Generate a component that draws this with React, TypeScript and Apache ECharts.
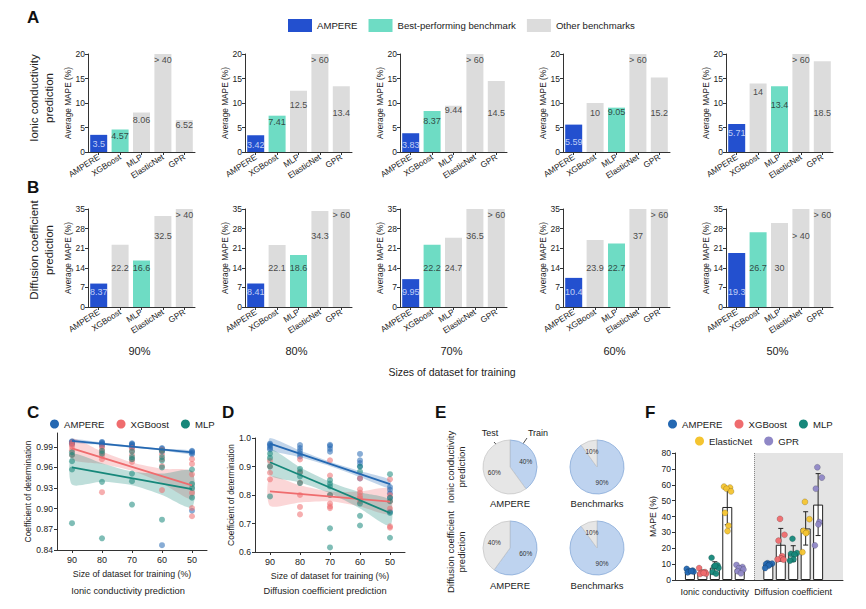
import React, { useEffect, useRef } from "react";
import * as echarts from "echarts";

// ---------------- DATA ----------------
const models = ["AMPERE", "XGBoost", "MLP", "ElasticNet", "GPR"];
const trainSizes = ["90%", "80%", "70%", "60%", "50%"];
const sizesNum = [90, 80, 70, 60, 50];

// Panel A: average MAPE (%) for ionic conductivity (strings = off-scale values)
const ionic90 = [3.5, 4.57, 8.06, "> 40", 6.52];
const ionic80 = [3.42, 7.41, 12.5, "> 60", 13.4];
const ionic70 = [3.83, 8.37, 9.44, "> 60", 14.5];
const ionic60 = [5.59, 10, 9.05, "> 60", 15.2];
const ionic50 = [5.71, 14, 13.4, "> 60", 18.5];
const ionicBest = [1, 1, 1, 2, 2];

// Panel B: average MAPE (%) for diffusion coefficient
const diff90 = [8.37, 22.2, 16.6, 32.5, "> 40"];
const diff80 = [8.41, 22.1, 18.6, 34.3, "> 60"];
const diff70 = [9.95, 22.2, 24.7, 36.5, "> 60"];
const diff60 = [10.4, 23.9, 22.7, 37, "> 60"];
const diff50 = [19.3, 26.7, 30, "> 40", "> 60"];
const diffBest = [2, 2, 1, 2, 1];

// Panel C: coefficient of determination, ionic conductivity (rows: 90,80,70,60,50)
const ionicR2Ampere = [
  [0.998, 0.997, 0.996, 0.995, 0.994],
  [0.997, 0.996, 0.995, 0.993, 0.991],
  [0.995, 0.994, 0.993, 0.991, 0.989],
  [0.988, 0.987, 0.985, 0.983, 0.847],
  [0.984, 0.983, 0.981, 0.979, 0.897],
];
const ionicR2Xgb = [
  [0.996, 0.993, 0.99, 0.985, 0.978],
  [0.99, 0.986, 0.982, 0.977, 0.972, 0.924],
  [0.988, 0.984, 0.978, 0.972, 0.968],
  [0.985, 0.979, 0.972, 0.962, 0.927],
  [0.972, 0.965, 0.95, 0.923, 0.901, 0.889],
];
const ionicR2Mlp = [
  [0.982, 0.978, 0.969, 0.957, 0.879],
  [0.984, 0.98, 0.939, 0.857],
  [0.983, 0.975, 0.972, 0.951, 0.94, 0.906],
  [0.984, 0.975, 0.97, 0.96, 0.884],
  [0.957, 0.936, 0.916, 0.93],
];
const ionicFitAmpere = [0.9987, 0.9818];
const ionicFitXgb = [0.9876, 0.934];
const ionicFitMlp = [0.96, 0.9285];
const ionicBandAmpereHi = [1.0012, 0.9962, 0.9915, 0.9875, 0.9845];
const ionicBandAmpereLo = [0.9962, 0.9928, 0.9885, 0.9845, 0.979];
const ionicBandXgbHi = [1.002, 0.983, 0.967, 0.958, 0.954];
const ionicBandXgbLo = [0.972, 0.965, 0.955, 0.937, 0.914];
const ionicBandMlpHi = [0.979, 0.966, 0.954, 0.951, 0.955];
const ionicBandMlpLo = [0.935, 0.939, 0.934, 0.92, 0.902];

// Panel D: coefficient of determination, diffusion coefficient
const diffR2Ampere = [
  [0.98, 0.977, 0.972, 0.965, 0.96],
  [0.975, 0.965, 0.955, 0.945, 0.935],
  [0.976, 0.972, 0.962, 0.952],
  [0.944, 0.922, 0.912, 0.9, 0.858],
  [0.828, 0.818, 0.806, 0.79, 0.741],
];
const diffR2Xgb = [
  [0.92, 0.9, 0.878, 0.855],
  [0.925, 0.88, 0.843, 0.8, 0.758, 0.732],
  [0.922, 0.868, 0.8, 0.77, 0.76, 0.754],
  [0.858, 0.82, 0.808, 0.796, 0.788, 0.778],
  [0.855, 0.8, 0.778, 0.752, 0.69, 0.685],
];
const diffR2Mlp = [
  [0.945, 0.93, 0.9, 0.795],
  [0.892, 0.88, 0.865, 0.842],
  [0.852, 0.84, 0.83, 0.8, 0.683, 0.616],
  [0.9, 0.882, 0.77, 0.727, 0.693],
  [0.873, 0.79, 0.778, 0.737, 0.65],
];
const diffFitAmpere = [0.98, 0.838];
const diffFitXgb = [0.813, 0.777];
const diffFitMlp = [0.915, 0.737];
const diffBandAmpereHi = [1.0, 0.956, 0.917, 0.884, 0.853];
const diffBandAmpereLo = [0.96, 0.933, 0.901, 0.863, 0.823];
const diffBandXgbHi = [0.864, 0.834, 0.812, 0.812, 0.822];
const diffBandXgbLo = [0.762, 0.774, 0.778, 0.76, 0.733];
const diffBandMlpHi = [0.96, 0.897, 0.846, 0.81, 0.782];
const diffBandMlpLo = [0.87, 0.844, 0.806, 0.753, 0.692];

// Panel E: train / test split (%)
const splitAmpereIonic = [40, 60];
const splitBenchIonic = [90, 10];
const splitAmpereDiff = [60, 40];
const splitBenchDiff = [90, 10];

// Panel F: MAPE (%) per run
const fIonic = [
  [7, 6, 5.5, 5.2, 4.8, 5.6],
  [7.5, 5, 4.6, 4, 3.8, 4.4],
  [14, 9.2, 8.5, 7.6, 5, 4, 9],
  [58.8, 58.2, 57.5, 55.8, 42.3, 34.2, 30.8],
  [9.5, 8.2, 7.5, 6.6, 5.5, 4.2],
];
const fDiff = [
  [10.6, 10.3, 10, 9.7, 9, 7.5],
  [38.5, 28.5, 24.8, 15, 13.6, 13, 12.8],
  [26, 17, 16.5, 16, 13, 12.2],
  [49.2, 38.3, 31, 30, 29.5, 17.5],
  [71, 64.5, 57.5, 36.5, 35, 21.8],
];
const fIonicMean = [5.5, 4.9, 7.8, 46, 7.0];
const fIonicSd = [1.0, 1.3, 3.7, 11.2, 1.9];
const fDiffMean = [9.9, 22.2, 16.6, 32.5, 47.5];
const fDiffSd = [1.2, 10.3, 5.0, 10.5, 19.5];
const fGroups = ["Ionic conductivity", "Diffusion coefficient"];

// ---------------- LAYOUT / STYLE ----------------
const FONT = '"Liberation Sans", Arial, sans-serif';
const INK = "#222";
const AXIS = "#333";
const BLUE = "#2350cf";
const TEAL = "#6edcc4";
const GREY = "#dcdcdc";
const C_AMP = "#2468b2";
const C_XGB = "#ef6c6e";
const C_MLP = "#16877a";
const C_EN = "#f4c430";
const C_GPR = "#8f87c6";
const PIE_BLUE = "#bed3ef";
const PIE_GREY = "#e6e6e6";

const panelLefts = [88, 245, 400, 563, 726];
const PANEL_W = 107;
const ionicLabelAt = [
  [1.7, 3.2, 6.6, 18.8, 5.5],
  [1.5, 6.2, 9.6, 18.8, 7.9],
  [1.5, 6.4, 8.6, 18.8, 7.9],
  [2.1, 8.0, 8.1, 18.8, 7.9],
  [3.8, 12.3, 9.5, 18.8, 7.9],
];
const diffLabelAt = [5.4, 13.8, 13.8, 25.2, 33];
const fIonicX = [1.2, 2.2, 3.2, 4.2, 5.2];
const fDiffX = [7.5, 8.5, 9.5, 10.5, 11.5];
const fGroupX = [3.2, 9.5];
const fSplit = 6.35;
const fMaxX = 13.5;
const jitter = [-0.26, 0.22, -0.06, 0.3, -0.18, 0.1, 0.02];

function buildOption() {
  const grids: any[] = [];
  const xAxes: any[] = [];
  const yAxes: any[] = [];
  const series: any[] = [];
  const graphic: any[] = [];

  const lineAx = { show: true, lineStyle: { color: AXIS, width: 1 } };
  const tickAx = { show: true, length: 3, lineStyle: { color: AXIS, width: 1 } };

  function text(t: string, x: number, y: number, size: number, opts: any = {}) {
    graphic.push({
      type: "text",
      x,
      y,
      rotation: opts.rotation || 0,
      silent: true,
      style: {
        text: t,
        fontSize: size,
        fontFamily: FONT,
        fontWeight: opts.weight || "normal",
        fill: opts.fill || INK,
        align: opts.align || "center",
        verticalAlign: opts.valign || "middle",
        lineHeight: opts.lineHeight || size * 1.2,
      },
    });
  }

  function addBarPanel(row: any[], best: number, labelAt: number[], top: number, left: number, max: number, interval: number) {
    const idx = grids.length;
    grids.push({ left, top, width: PANEL_W, height: 98, outerBoundsMode: "none" });
    xAxes.push({
      type: "category",
      gridIndex: idx,
      data: models,
      axisLine: lineAx,
      axisTick: { ...tickAx, alignWithLabel: true },
      axisLabel: { rotate: 33, interval: 0, fontSize: 8.3, color: INK, margin: 4, fontFamily: FONT },
    });
    yAxes.push({
      type: "value",
      gridIndex: idx,
      min: 0,
      max,
      interval,
      name: "Average MAPE (%)",
      nameLocation: "middle",
      nameGap: 14,
      nameTextStyle: { fontSize: 8.3, color: INK, fontFamily: FONT },
      axisLine: lineAx,
      axisTick: tickAx,
      axisLabel: { fontSize: 8.5, color: INK, margin: 3, fontFamily: FONT },
      splitLine: { show: false },
    });
    series.push({
      type: "bar",
      xAxisIndex: idx,
      yAxisIndex: idx,
      barWidth: 17,
      silent: true,
      data: row.map((v, i) => ({
        value: typeof v === "number" ? Math.min(v, max) : max,
        itemStyle: { color: i === 0 ? BLUE : i === best ? TEAL : GREY },
      })),
    });
    series.push({
      type: "scatter",
      xAxisIndex: idx,
      yAxisIndex: idx,
      symbolSize: 1,
      itemStyle: { color: "transparent" },
      silent: true,
      z: 5,
      data: row.map((v, i) => ({
        value: [i, labelAt[i]],
        label: { color: i === 0 ? "#e8eeff" : INK },
      })),
      label: {
        show: true,
        position: "inside",
        fontSize: 9,
        fontFamily: FONT,
        formatter: (p: any) => String(row[p.dataIndex]),
      },
    });
  }

  const ionicRows = [ionic90, ionic80, ionic70, ionic60, ionic50];
  const diffRows = [diff90, diff80, diff70, diff60, diff50];
  ionicRows.forEach((row, i) => addBarPanel(row, ionicBest[i], ionicLabelAt[i], 54, panelLefts[i], 20, 5));
  diffRows.forEach((row, i) => addBarPanel(row, diffBest[i], diffLabelAt, 209, panelLefts[i], 35, 7));

  // ---- C & D scatter/regression panels ----
  const pts = (rows: number[][]) => rows.flatMap((ys, i) => ys.map((y) => [sizesNum[i], y]));

  function addR2Panel(left: number, top: number, height: number, ymin: number, ymax: number, ticks: number[], digits: number, nameGap: number,
    sets: { name: string; color: string; rows: number[][]; fit: number[]; hi: number[]; lo: number[] }[]) {
    const idx = grids.length;
    grids.push({ left, top, width: 150, height, outerBoundsMode: "none" });
    xAxes.push({
      type: "value",
      gridIndex: idx,
      min: 45,
      max: 95,
      inverse: true,
      name: "Size of dataset for training (%)",
      nameLocation: "middle",
      nameGap: 19,
      nameTextStyle: { fontSize: 8.8, color: INK, fontFamily: FONT },
      axisLine: { ...lineAx, onZero: false },
      axisTick: { ...tickAx, customValues: sizesNum },
      axisLabel: { customValues: sizesNum, fontSize: 9, color: INK, margin: 5, fontFamily: FONT },
      splitLine: { show: false },
    });
    yAxes.push({
      type: "value",
      gridIndex: idx,
      min: ymin,
      max: ymax,
      name: "Coefficient of determination",
      nameLocation: "middle",
      nameGap,
      nameTextStyle: { fontSize: 8.4, color: INK, fontFamily: FONT },
      axisLine: lineAx,
      axisTick: { ...tickAx, customValues: ticks },
      axisLabel: {
        customValues: ticks,
        fontSize: 8.6,
        color: INK,
        margin: 4,
        fontFamily: FONT,
        formatter: (v: number) => v.toFixed(digits),
      },
      splitLine: { show: false },
    });
    sets.forEach((s) => {
      series.push({
        type: "custom",
        name: s.name + "-band-" + idx,
        xAxisIndex: idx,
        yAxisIndex: idx,
        silent: true,
        z: 1,
        encode: { x: 0, y: [1, 2] },
        data: sizesNum.map((x, i) => [x, s.lo[i], s.hi[i]]),
        renderItem: (params: any, api: any) => {
          if (params.dataIndex !== 0) return { type: "group", children: [] };
          const upper = sizesNum.map((x, i) => api.coord([x, s.hi[i]]));
          const lower = sizesNum.map((x, i) => api.coord([x, s.lo[i]])).reverse();
          return {
            type: "polygon",
            shape: { points: [...upper, ...lower], smooth: 0.25 },
            style: { fill: s.color, opacity: 0.28 },
          };
        },
      });
    });
    sets.forEach((s) => {
      series.push({
        type: "scatter",
        name: s.name,
        xAxisIndex: idx,
        yAxisIndex: idx,
        data: pts(s.rows),
        symbolSize: 6,
        itemStyle: { color: s.color, opacity: 0.55 },
        silent: true,
        z: 2,
      });
    });
    sets.forEach((s) => {
      series.push({
        type: "line",
        name: s.name + "-fit-" + idx,
        xAxisIndex: idx,
        yAxisIndex: idx,
        data: [[90, s.fit[0]], [50, s.fit[1]]],
        symbol: "none",
        lineStyle: { color: s.color, width: 1.8 },
        silent: true,
        z: 3,
      });
    });
  }

  addR2Panel(57, 433, 117, 0.84, 1.01, [0.84, 0.87, 0.9, 0.93, 0.96, 0.99], 2, 23, [
    { name: "AMPERE", color: C_AMP, rows: ionicR2Ampere, fit: ionicFitAmpere, hi: ionicBandAmpereHi, lo: ionicBandAmpereLo },
    { name: "XGBoost", color: C_XGB, rows: ionicR2Xgb, fit: ionicFitXgb, hi: ionicBandXgbHi, lo: ionicBandXgbLo },
    { name: "MLP", color: C_MLP, rows: ionicR2Mlp, fit: ionicFitMlp, hi: ionicBandMlpHi, lo: ionicBandMlpLo },
  ]);
  addR2Panel(255, 438, 114, 0.6, 1.0, [0.6, 0.7, 0.8, 0.9, 1.0], 1, 19, [
    { name: "AMPERE", color: C_AMP, rows: diffR2Ampere, fit: diffFitAmpere, hi: diffBandAmpereHi, lo: diffBandAmpereLo },
    { name: "XGBoost", color: C_XGB, rows: diffR2Xgb, fit: diffFitXgb, hi: diffBandXgbHi, lo: diffBandXgbLo },
    { name: "MLP", color: C_MLP, rows: diffR2Mlp, fit: diffFitMlp, hi: diffBandMlpHi, lo: diffBandMlpLo },
  ]);

  // ---- F panel ----
  const fIdx = grids.length;
  grids.push({ left: 675, top: 453, width: 168, height: 127, outerBoundsMode: "none" });
  xAxes.push({
    type: "value",
    gridIndex: fIdx,
    min: 0,
    max: fMaxX,
    axisLine: { ...lineAx, onZero: false },
    axisTick: { show: false },
    axisLabel: {
      customValues: fGroupX,
      showMinLabel: true,
      showMaxLabel: true,
      hideOverlap: false,
      fontSize: 9,
      color: INK,
      margin: 7,
      fontFamily: FONT,
      formatter: (v: number) => (v < fSplit ? fGroups[0] : fGroups[1]),
    },
    splitLine: { show: false },
  });
  yAxes.push({
    type: "value",
    gridIndex: fIdx,
    min: 0,
    max: 80,
    interval: 10,
    name: "MAPE (%)",
    nameLocation: "middle",
    nameGap: 18,
    nameTextStyle: { fontSize: 8.8, color: INK, fontFamily: FONT },
    axisLine: lineAx,
    axisTick: tickAx,
    axisLabel: { fontSize: 8.6, color: INK, margin: 4, fontFamily: FONT },
    splitLine: { show: false },
  });
  series.push({
    type: "line",
    name: "f-shade",
    xAxisIndex: fIdx,
    yAxisIndex: fIdx,
    data: [[fSplit, 0], [fMaxX, 0]],
    symbol: "none",
    lineStyle: { opacity: 0 },
    silent: true,
    z: 1,
    markArea: {
      silent: true,
      itemStyle: { color: "#e4e4e4" },
      data: [[{ xAxis: fSplit }, { xAxis: fMaxX }]],
    },
    markLine: {
      silent: true,
      symbol: "none",
      label: { show: false },
      lineStyle: { color: "#888", type: "dotted", width: 1 },
      data: [{ xAxis: fSplit }],
    },
  });
  const fBarData = [
    ...fIonicX.map((x, i) => [x, fIonicMean[i]]),
    ...fDiffX.map((x, i) => [x, fDiffMean[i]]),
  ];
  series.push({
    type: "bar",
    name: "f-bars",
    xAxisIndex: fIdx,
    yAxisIndex: fIdx,
    barWidth: 10,
    data: fBarData,
    itemStyle: { color: "#ffffff", borderColor: "#222", borderWidth: 1 },
    silent: true,
    z: 2,
  });
  const fErrData = [
    ...fIonicX.map((x, i) => [x, fIonicMean[i] - fIonicSd[i], fIonicMean[i] + fIonicSd[i]]),
    ...fDiffX.map((x, i) => [x, fDiffMean[i] - fDiffSd[i], fDiffMean[i] + fDiffSd[i]]),
  ];
  series.push({
    type: "custom",
    name: "f-err",
    xAxisIndex: fIdx,
    yAxisIndex: fIdx,
    silent: true,
    z: 3,
    encode: { x: 0, y: [1, 2] },
    data: fErrData,
    renderItem: (params: any, api: any) => {
      const lo = api.coord([api.value(0), api.value(1)]);
      const hi = api.coord([api.value(0), api.value(2)]);
      const w = 2.5;
      const st = { stroke: "#222", lineWidth: 1 };
      return {
        type: "group",
        children: [
          { type: "line", shape: { x1: hi[0], y1: hi[1], x2: lo[0], y2: lo[1] }, style: st },
          { type: "line", shape: { x1: hi[0] - w, y1: hi[1], x2: hi[0] + w, y2: hi[1] }, style: st },
          { type: "line", shape: { x1: lo[0] - w, y1: lo[1], x2: lo[0] + w, y2: lo[1] }, style: st },
        ],
      };
    },
  });
  const fColors = [C_AMP, C_XGB, C_MLP, C_EN, C_GPR];
  models.forEach((m, k) => {
    const d = [
      ...fIonic[k].map((v, j) => [fIonicX[k] + jitter[j % jitter.length], v]),
      ...fDiff[k].map((v, j) => [fDiffX[k] + jitter[(j + 2) % jitter.length], v]),
    ];
    series.push({
      type: "scatter",
      name: m,
      xAxisIndex: fIdx,
      yAxisIndex: fIdx,
      data: d,
      symbolSize: 6,
      itemStyle: { color: fColors[k], opacity: 0.95, borderColor: "rgba(0,0,0,0.35)", borderWidth: 0.5 },
      silent: true,
      z: 4,
    });
  });

  // dummy series for the A/B legend
  series.push({ type: "scatter", name: "Best-performing benchmark", xAxisIndex: fIdx, yAxisIndex: fIdx, data: [], itemStyle: { color: TEAL } });
  series.push({ type: "scatter", name: "Other benchmarks", xAxisIndex: fIdx, yAxisIndex: fIdx, data: [], itemStyle: { color: GREY } });

  // ---- E pies ----
  function pie(center: number[], vals: number[]) {
    series.push({
      type: "pie",
      center,
      radius: 27,
      startAngle: 90,
      clockwise: true,
      silent: true,
      data: [
        { name: "Train", value: vals[0], itemStyle: { color: PIE_BLUE, borderColor: "#86a9d8", borderWidth: 0.8 } },
        { name: "Test", value: vals[1], itemStyle: { color: PIE_GREY, borderColor: "#c8c8c8", borderWidth: 0.8 } },
      ],
      label: { show: true, position: "inside", formatter: "{c}%", fontSize: 6.5, color: "#333", fontFamily: FONT },
      labelLine: { show: false },
      emphasis: { disabled: true },
    });
  }
  pie([510, 467], splitAmpereIonic);
  pie([597, 467], splitBenchIonic);
  pie([510, 548], splitAmpereDiff);
  pie([597, 548], splitBenchDiff);

  // ---- texts ----
  const letters: [string, number, number][] = [
    ["A", 27, 17], ["B", 27, 187], ["C", 27, 412], ["D", 222, 412], ["E", 435, 412], ["F", 645, 412],
  ];
  letters.forEach(([t, x, y]) => text(t, x, y, 17, { weight: "bold", align: "left", fill: "#111" }));
  text("Ionic conductivity\nprediction", 41, 98, 11.5, { rotation: Math.PI / 2, lineHeight: 15 });
  text("Diffusion coefficient\nprediction", 41, 250, 11.5, { rotation: Math.PI / 2, lineHeight: 15 });
  trainSizes.forEach((t, i) => text(t, panelLefts[i] + PANEL_W / 2 - 2, 351, 11));
  text("Sizes of dataset for training", 452, 372, 10.5);
  text("Ionic conductivity prediction", 128, 591, 9.3);
  text("Diffusion coefficient prediction", 325, 591, 9.3);
  text("Ionic conductivity\nprediction", 456, 467, 9.5, { rotation: Math.PI / 2, lineHeight: 11 });
  text("Diffusion coefficient\nprediction", 456, 552, 9.5, { rotation: Math.PI / 2, lineHeight: 11 });
  text("AMPERE", 510, 503, 9.5);
  text("Benchmarks", 597, 503, 9.5);
  text("AMPERE", 510, 585, 9.5);
  text("Benchmarks", 597, 585, 9.5);
  text("Test", 490, 433, 9);
  text("Train", 538, 433, 9);
  graphic.push({ type: "line", silent: true, shape: { x1: 494, y1: 442, x2: 503, y2: 452 }, style: { stroke: "#222", lineWidth: 0.8 } });
  graphic.push({ type: "line", silent: true, shape: { x1: 527, y1: 438, x2: 518, y2: 451 }, style: { stroke: "#222", lineWidth: 0.8 } });

  const legendText = { fontSize: 9.6, color: INK, fontFamily: FONT };
  const circ = (name: string, color: string) => ({ name, icon: "circle", itemStyle: { color, opacity: 1, borderWidth: 0 } });

  return {
    animation: false,
    backgroundColor: "#ffffff",
    textStyle: { fontFamily: FONT },
    grid: grids,
    xAxis: xAxes,
    yAxis: yAxes,
    series,
    graphic,
    legend: [
      {
        left: 288,
        top: 19,
        padding: 0,
        itemWidth: 24,
        itemHeight: 13,
        itemGap: 11,
        selectedMode: false,
        textStyle: legendText,
        data: [
          { name: "AMPERE", icon: "rect", itemStyle: { color: BLUE, opacity: 1, borderWidth: 0 } },
          { name: "Best-performing benchmark", icon: "rect", itemStyle: { color: TEAL, opacity: 1, borderWidth: 0 } },
          { name: "Other benchmarks", icon: "rect", itemStyle: { color: GREY, opacity: 1, borderWidth: 0 } },
        ],
      },
      {
        left: 50,
        top: 419,
        padding: 0,
        itemWidth: 9,
        itemHeight: 9,
        itemGap: 12,
        selectedMode: false,
        textStyle: legendText,
        data: [circ("AMPERE", C_AMP), circ("XGBoost", C_XGB), circ("MLP", C_MLP)],
      },
      {
        left: 668,
        top: 419,
        padding: 0,
        itemWidth: 9,
        itemHeight: 9,
        itemGap: 12,
        selectedMode: false,
        textStyle: legendText,
        data: [circ("AMPERE", C_AMP), circ("XGBoost", C_XGB), circ("MLP", C_MLP)],
      },
      {
        left: 695,
        top: 436,
        padding: 0,
        itemWidth: 9,
        itemHeight: 9,
        itemGap: 12,
        selectedMode: false,
        textStyle: legendText,
        data: [circ("ElasticNet", C_EN), circ("GPR", C_GPR)],
      },
    ],
  };
}

export default function App() {
  const ref = useRef<HTMLDivElement>(null);
  useEffect(() => {
    if (!ref.current) return;
    const chart = echarts.init(ref.current, null, { renderer: "svg", width: 866, height: 609 });
    chart.setOption(buildOption() as any);
    return () => chart.dispose();
  }, []);
  return (
    <div
      ref={ref}
      style={{ position: "absolute", left: 0, top: 0, width: 866, height: 609, background: "#fff" }}
    />
  );
}
